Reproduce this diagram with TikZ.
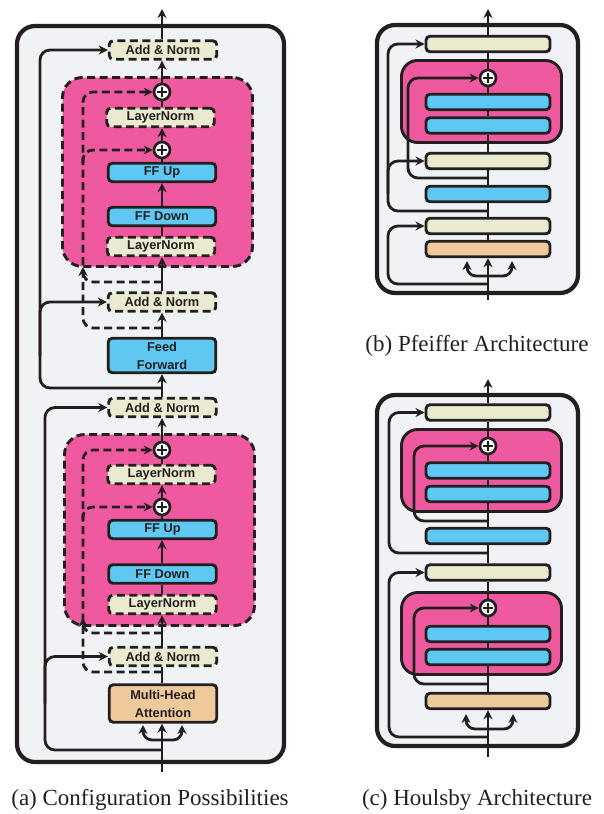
\documentclass[tikz,border=0pt]{standalone}
\usepackage{fontspec}
\setmainfont{Liberation Serif}
\setsansfont{Liberation Sans}
\usepackage{tikz}
\usetikzlibrary{arrows.meta,positioning,calc}
\definecolor{inkblack}{HTML}{231F20}
\definecolor{panelgray}{HTML}{F1F2F5}
\definecolor{adapterpink}{HTML}{EE599F}
\definecolor{ffblue}{HTML}{5EC8F2}
\definecolor{normcream}{HTML}{E9EACF}
\definecolor{attnorange}{HTML}{EEC99C}

\begin{document}
\begin{tikzpicture}[x=1pt,y=-1pt,
  panel/.style={draw=inkblack,fill=panelgray,line width=4.2pt,rounded corners=18pt},
  adapter/.style={draw=inkblack,fill=adapterpink,line width=2.9pt,rounded corners=20pt},
  block/.style={draw=inkblack,line width=2.9pt,rounded corners=4pt,inner sep=0pt,align=center,text=inkblack,font=\sffamily\bfseries\fontsize{12.8}{18}\selectfont},
  ffblock/.style={block,fill=ffblue},
  normblock/.style={block,fill=normcream},
  attnblock/.style={block,fill=attnorange},
  optional/.style={dash pattern=on 8pt off 4.5pt},
  wide/.style={minimum width=107.5pt,minimum height=18.5pt},
  bar/.style={minimum width=124pt,minimum height=15.5pt},
  plus/.style={circle,draw=inkblack,fill=white,line width=2.7pt,minimum size=16pt,inner sep=0pt,
    path picture={\draw[inkblack,line width=1.5pt]
      ([xshift=-5pt]path picture bounding box.center) -- ([xshift=5pt]path picture bounding box.center)
      ([yshift=-5pt]path picture bounding box.center) -- ([yshift=5pt]path picture bounding box.center);}},
  line/.style={draw=inkblack,line width=2.8pt},
  arrow/.style={line,-{Stealth[length=9pt,width=9pt]}},
  skip/.style={arrow,rounded corners=10pt},
  caption/.style={text=inkblack,font=\fontsize{23}{27}\selectfont}
]
  \useasboundingbox (0,0) rectangle (603,814);

  % (a) configuration possibilities
  \node[panel,minimum width=267pt,minimum height=736pt] (PA) at (150.5,394) {};
  \node[adapter,optional,minimum width=190pt,minimum height=189pt] (AD2) at (157.5,172) {};
  \node[adapter,optional,minimum width=190pt,minimum height=191pt] (AD1) at (159.5,530) {};
  \node[attnblock,minimum width=107.5pt,minimum height=37.5pt] (MHA) at (163,703.5) {Multi-Head\\Attention};
  \node[normblock,optional,wide] (AN0) at (163,656.5) {Add \& Norm};
  \node[normblock,optional,wide] (LN1) at (162.5,604.5) {LayerNorm};
  \node[ffblock,wide] (FD1) at (162.5,574) {FF Down};
  \node[ffblock,wide] (FU1) at (162.5,529.5) {FF Up};
  \node[plus] (PL1) at (162,507) {};
  \node[normblock,optional,wide] (LN2) at (161.5,474.5) {LayerNorm};
  \node[plus] (PL2) at (162,450) {};
  \node[normblock,optional,wide] (AN1) at (162.5,407.5) {Add \& Norm};
  \node[ffblock,minimum width=107.5pt,minimum height=34.5pt] (FF) at (162,355.5) {Feed\\Forward};
  \node[normblock,optional,wide] (AN2) at (162,302) {Add \& Norm};
  \node[normblock,optional,wide] (LN3) at (161,246.5) {LayerNorm};
  \node[ffblock,wide] (FD2) at (162,216.5) {FF Down};
  \node[ffblock,wide] (FU2) at (162,172.5) {FF Up};
  \node[plus] (PL3) at (162,150) {};
  \node[normblock,optional,wide] (LN4) at (160.5,117.5) {LayerNorm};
  \node[plus] (PL4) at (162,92) {};
  \node[normblock,optional,wide] (AN3) at (163,50) {Add \& Norm};

  \coordinate (inA) at (162,772);
  \coordinate (outA) at (162,9);
  \coordinate (forkA) at (162,740);
  \coordinate (leftA) at (143,725);
  \coordinate (rightA) at (182,725);
  \draw[arrow] (inA) -- (MHA.south -| inA);
  \draw[arrow,rounded corners=9pt] (forkA) -| (leftA);
  \draw[arrow,rounded corners=9pt] (forkA) -| (rightA);
  \foreach \a/\b in {MHA/AN0,LN1/FD1,FU1/PL1,LN2/PL2,LN3/FD2,FU2/PL3,LN4/PL4}
    \draw[line] (\a.north -| inA) -- (\b.south -| inA);
  \foreach \a/\b in {AN0/LN1,FD1/FU1,PL1/LN2,PL2/AN1,AN1/FF,FF/AN2,AN2/LN3,FD2/FU2,PL3/LN4,PL4/AN3}
    \draw[arrow] (\a.north -| inA) -- (\b.south -| inA);
  \draw[arrow] (AN3.north -| inA) -- (outA);

  % residual connections
  \coordinate (tapA1) at (162,750);
  \coordinate (kneeA1) at (45,750);
  \draw[skip] (tapA1) -- (kneeA1) |- (AN1.west);
  \draw[skip] (MHA -| kneeA1) |- (AN0.west);
  \coordinate (tapA2) at (162,388);
  \coordinate (kneeA2) at (40,388);
  \draw[skip] (tapA2) -- (kneeA2) |- (AN3.west);
  \draw[skip] (FF -| kneeA2) |- (AN2.west);

  % adapter skips
  \coordinate (tapD1) at (162,672);
  \coordinate (kneeD1) at (83,672);
  \coordinate (tapD2) at (162,633);
  \coordinate (joinD2) at (83,618);
  \coordinate (splitD1) at (83,520);
  \draw[skip,optional] (tapD1) -- (kneeD1) |- (PL2.west);
  \draw[skip,optional] (tapD2) -| (joinD2);
  \draw[skip,optional] (splitD1) |- (PL1.west);
  \coordinate (tapD3) at (162,328);
  \coordinate (kneeD3) at (83,328);
  \coordinate (tapD4) at (162,282);
  \coordinate (joinD4) at (83,267);
  \coordinate (splitD3) at (83,163);
  \draw[skip,optional] (tapD3) -- (kneeD3) |- (PL4.west);
  \draw[skip,optional] (tapD4) -| (joinD4);
  \draw[skip,optional] (splitD3) |- (PL3.west);

  \node[caption] (CA) at (150,800) {(a) Configuration Possibilities};

  % (b) Pfeiffer
  \node[panel,minimum width=201pt,minimum height=268pt] (PB) at (477.5,159) {};
  \node[adapter,minimum width=160pt,minimum height=82pt,rounded corners=16pt] (BAD) at (481.5,101.5) {};
  \node[attnblock,bar] (BMH) at (488,249) {};
  \node[normblock,bar] (BN1) at (488,226) {};
  \node[ffblock,bar] (BF1) at (488,194) {};
  \node[normblock,bar] (BN2) at (488,161) {};
  \node[ffblock,bar] (BF2) at (488,125.5) {};
  \node[ffblock,bar] (BF3) at (488,102) {};
  \node[plus] (BP) at (488,78) {};
  \node[normblock,bar] (BN3) at (488,44) {};

  \coordinate (inB) at (488,300);
  \coordinate (outB) at (488,9);
  \coordinate (forkB) at (488,276);
  \coordinate (leftB) at (467,261);
  \coordinate (rightB) at (512,261);
  \draw[arrow] (inB) -- (BMH);
  \draw[arrow,rounded corners=9pt] (forkB) -| (leftB);
  \draw[arrow,rounded corners=9pt] (forkB) -| (rightB);
  \foreach \a/\b in {BMH/BN1,BN1/BF1,BF1/BN2,BN2/BF2,BF2/BF3,BF3/BP,BP/BN3}
    \draw[line] (\a) -- (\b);
  \draw[arrow] (BN3) -- (outB);

  \coordinate (tapB1) at (488,284);
  \coordinate (kneeB1) at (388,284);
  \draw[skip] (tapB1) -- (kneeB1) |- (BN1.west);
  \coordinate (tapB2) at (488,211);
  \coordinate (kneeB2) at (388,211);
  \draw[skip] (tapB2) -- (kneeB2) |- (BN3.west);
  \draw[skip] (BF1 -| kneeB2) |- (BN2.west);
  \coordinate (tapB3) at (488,178);
  \coordinate (kneeB3) at (408,178);
  \draw[skip] (tapB3) -- (kneeB3) |- (BP.west);

  \node[caption] (CB) at (477,346) {(b) Pfeiffer Architecture};

  % (c) Houlsby
  \node[panel,minimum width=201pt,minimum height=351pt] (PC) at (477.5,570.5) {};
  \node[adapter,minimum width=160pt,minimum height=82pt,rounded corners=16pt] (CAD1) at (481.5,633.5) {};
  \node[adapter,minimum width=160pt,minimum height=82pt,rounded corners=16pt] (CAD2) at (481.5,470.5) {};
  \node[attnblock,bar] (CMH) at (488,701) {};
  \node[ffblock,bar] (CU1) at (488,657) {};
  \node[ffblock,bar] (CU2) at (488,634) {};
  \node[plus] (CP1) at (488,608) {};
  \node[normblock,bar] (CN1) at (488,572.5) {};
  \node[ffblock,bar] (CFF) at (488,536) {};
  \node[ffblock,bar] (CU3) at (488,494) {};
  \node[ffblock,bar] (CU4) at (488,470.5) {};
  \node[plus] (CP2) at (488,446) {};
  \node[normblock,bar] (CN2) at (488,412.5) {};

  \coordinate (inC) at (488,757);
  \coordinate (outC) at (488,379);
  \coordinate (forkC) at (488,729);
  \coordinate (leftC) at (466,714);
  \coordinate (rightC) at (513,714);
  \draw[arrow] (inC) -- (CMH);
  \draw[arrow,rounded corners=9pt] (forkC) -| (leftC);
  \draw[arrow,rounded corners=9pt] (forkC) -| (rightC);
  \foreach \a/\b in {CMH/CU1,CU1/CU2,CU2/CP1,CP1/CN1,CN1/CFF,CFF/CU3,CU3/CU4,CU4/CP2,CP2/CN2}
    \draw[line] (\a) -- (\b);
  \draw[arrow] (CN2) -- (outC);

  \coordinate (tapC1) at (488,737);
  \coordinate (kneeC1) at (389,737);
  \draw[skip] (tapC1) -- (kneeC1) |- (CN1.west);
  \coordinate (tapC2) at (488,684);
  \coordinate (kneeC2) at (414,684);
  \draw[skip] (tapC2) -- (kneeC2) |- (CP1.west);
  \coordinate (tapC3) at (488,553);
  \coordinate (kneeC3) at (389,553);
  \draw[skip] (tapC3) -- (kneeC3) |- (CN2.west);
  \coordinate (tapC4) at (488,521);
  \coordinate (kneeC4) at (414,521);
  \draw[skip] (tapC4) -- (kneeC4) |- (CP2.west);

  \node[caption] (CC) at (477,800) {(c) Houlsby Architecture};
\end{tikzpicture}
\end{document}
